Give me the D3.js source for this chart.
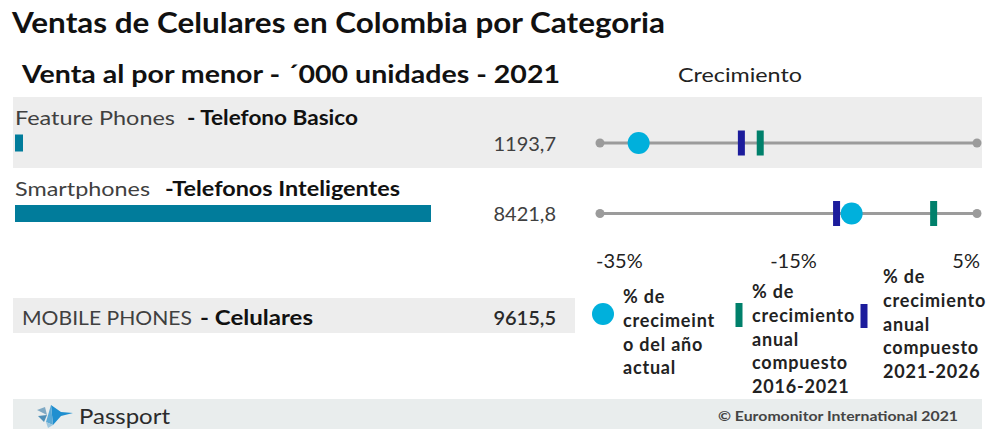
<!DOCTYPE html>
<html>
<head>
<meta charset="utf-8">
<script src="https://cdn.jsdelivr.net/npm/d3@7"></script>
<style>
  html, body { margin: 0; padding: 0; background: #fff; }
  svg { display: block; font-family: Lato, "Open Sans", sans-serif; }
</style>
</head>
<body>
<svg id="chart" width="991" height="429"></svg>
<script>
// Retail volume by category, '000 units, 2021
const categories = ["Feature Phones", "Smartphones"];
const categoriesEs = ["- Telefono Basico", "-Telefonos Inteligentes"];
const units = [1193.7, 8421.8];
const totalLabel = "MOBILE PHONES";
const totalLabelEs = "- Celulares";
const totalUnits = 9615.5;

// Growth, %
const growthCurrentYear = [-30.9, -8.3];
const cagr2016_2021 = [-18.0, 0.4];
const cagr2021_2026 = [-20.0, -9.9];
const growthTicks = [-35, -15, 5];

const legendItems = [
  ["% de", "crecimeint", "o del año", "actual"],
  ["% de", "crecimiento", "anual", "compuesto", "2016-2021"],
  ["% de", "crecimiento", "anual", "compuesto", "2021-2026"]
];

const colors = {
  band: "#ededed",
  footer: "#e9eded",
  bar: "#017c9b",
  current: "#00b0dc",
  cagrPast: "#00806b",
  cagrFuture: "#1c1c9c",
  track: "#9b9b9b",
  label: "#404040",
  strong: "#111111"
};

// Label segment layout: [x of name, width of name, x of Spanish name, width of Spanish name]
const labelLayout = [[15, 160, 187, 171], [15, 135, 165, 235]];
const totalLayout = [22, 170, 200, 113];

const fmt = v => d3.format(".1f")(v).replace(".", ",");
const pct = v => String(v) + "%";

const svg = d3.select("#chart");

function segment(x, y, txt, width, bold, fill) {
  return svg.append("text").attr("x", x).attr("y", y)
    .attr("font-size", 20).attr("font-weight", bold ? 700 : 400).attr("fill", fill)
    .attr("textLength", width).attr("lengthAdjust", "spacingAndGlyphs")
    .text(txt);
}

// Titles
svg.append("text").attr("x", 12).attr("y", 33)
  .attr("font-size", 29).attr("font-weight", 700).attr("fill", colors.strong)
  .attr("textLength", 653).attr("lengthAdjust", "spacingAndGlyphs")
  .text("Ventas de Celulares en Colombia por Categoria");
svg.append("text").attr("x", 22).attr("y", 83)
  .attr("font-size", 24).attr("font-weight", 700).attr("fill", colors.strong)
  .attr("textLength", 538).attr("lengthAdjust", "spacingAndGlyphs")
  .text("Venta al por menor - ´000 unidades - 2021");
svg.append("text").attr("x", 678).attr("y", 82)
  .attr("font-size", 19).attr("fill", "#222")
  .attr("textLength", 124).attr("lengthAdjust", "spacingAndGlyphs")
  .text("Crecimiento");

// Row layout
const rowY = d3.scaleOrdinal().domain(categories).range([143, 213.5]);

// Bars: left column
const barX = d3.scaleLinear().domain([1052, 8421.8]).range([0, 416]);
// Growth track: right column
const gx = d3.scaleLinear().domain([-35, 5]).range([600, 977]);

// Shaded band behind the first row
svg.append("rect").attr("x", 13).attr("y", 97).attr("width", 969).attr("height", 71)
  .attr("fill", colors.band);

categories.forEach((c, i) => {
  const y = rowY(c) - 18;
  const L = labelLayout[i];
  segment(L[0], y, c, L[1], false, colors.label);
  segment(L[2], y, categoriesEs[i], L[3], true, colors.strong);
});

const rows = svg.selectAll("g.row").data(categories).join("g").attr("class", "row");

rows.append("rect")
  .attr("x", 15).attr("y", d => rowY(d) - 8.5)
  .attr("width", (d, i) => barX(units[i]))
  .attr("height", 17)
  .attr("fill", colors.bar);

rows.append("text")
  .attr("x", 556).attr("y", d => rowY(d) + 7.5)
  .attr("text-anchor", "end").attr("font-size", 20).attr("fill", colors.label)
  .text((d, i) => fmt(units[i]));

// Track line with end caps
rows.append("line")
  .attr("x1", gx(-35)).attr("x2", gx(5))
  .attr("y1", d => rowY(d)).attr("y2", d => rowY(d))
  .attr("stroke", colors.track).attr("stroke-width", 3);
rows.selectAll("circle.cap").data(d => [-35, 5].map(v => ({ v, d }))).join("circle")
  .attr("class", "cap")
  .attr("cx", o => gx(o.v)).attr("cy", o => rowY(o.d)).attr("r", 4.5)
  .attr("fill", colors.track);

// Markers
const tickW = 7, tickH = 25;
rows.append("rect")
  .attr("x", (d, i) => gx(cagr2016_2021[i]) - tickW / 2)
  .attr("y", d => rowY(d) - tickH / 2)
  .attr("width", tickW).attr("height", tickH).attr("fill", colors.cagrPast);
rows.append("rect")
  .attr("x", (d, i) => gx(cagr2021_2026[i]) - tickW / 2)
  .attr("y", d => rowY(d) - tickH / 2)
  .attr("width", tickW).attr("height", tickH).attr("fill", colors.cagrFuture);
rows.append("circle")
  .attr("cx", (d, i) => gx(growthCurrentYear[i]))
  .attr("cy", d => rowY(d)).attr("r", 11)
  .attr("fill", colors.current);

// Growth axis labels
const anchors = ["start", "middle", "end"];
svg.selectAll("text.gtick").data(growthTicks).join("text")
  .attr("class", "gtick")
  .attr("x", (d, i) => i === 0 ? gx(d) - 4 : (i === 2 ? gx(d) + 3 : gx(d) + 5))
  .attr("y", 268)
  .attr("text-anchor", (d, i) => anchors[i])
  .attr("font-size", 20).attr("fill", "#222")
  .text(pct);

// Total row
svg.append("rect").attr("x", 13).attr("y", 298).attr("width", 562).attr("height", 35)
  .attr("fill", colors.band);
segment(totalLayout[0], 325, totalLabel, totalLayout[1], false, colors.label);
segment(totalLayout[2], 325, totalLabelEs, totalLayout[3], true, colors.strong);
svg.append("text").attr("x", 556).attr("y", 325)
  .attr("text-anchor", "end").attr("font-size", 20).attr("font-weight", 600).attr("fill", "#2a2a2a")
  .text(fmt(totalUnits));

// Legend
const legend = [
  { x: 623, y: 303, mark: "circle", mx: 603, my: 314, color: colors.current },
  { x: 752, y: 298, mark: "tick", mx: 739, my: 315, color: colors.cagrPast },
  { x: 883, y: 283, mark: "tick", mx: 864, my: 316, color: colors.cagrFuture }
];
legend.forEach((l, i) => {
  if (l.mark === "circle") {
    svg.append("circle").attr("cx", l.mx).attr("cy", l.my).attr("r", 11).attr("fill", l.color);
  } else {
    svg.append("rect").attr("x", l.mx - 3.5).attr("y", l.my - 12).attr("width", 7).attr("height", 24).attr("fill", l.color);
  }
  svg.append("text").attr("x", l.x).attr("y", l.y)
    .attr("font-size", 18).attr("font-weight", 700).attr("fill", "#222")
    .attr("letter-spacing", 0.8)
    .selectAll("tspan").data(legendItems[i]).join("tspan")
    .attr("x", l.x).attr("dy", (d, j) => j === 0 ? 0 : 23.8)
    .text(d => d);
});

// Footer
svg.append("rect").attr("x", 13).attr("y", 399).attr("width", 969).attr("height", 30)
  .attr("fill", colors.footer);
const logo = svg.append("g").attr("transform", "translate(37,403)");
logo.append("path").attr("d", "M14,2 L24,9 L36,10 L24,13 L16,22 Z").attr("fill", "#1f8fd0");
logo.append("path").attr("d", "M14,2 L16,22 L9,19 Z").attr("fill", "#5aa9d6");
logo.append("path").attr("d", "M0,7 L8,4 L10,12 Z").attr("fill", "#7fa9c4");
logo.append("path").attr("d", "M1,13 L10,12 L7,19 Z").attr("fill", "#4f8fb8");
logo.append("path").attr("d", "M9,19 L16,22 L11,25 Z").attr("fill", "#9cc6de");
svg.append("text").attr("x", 79).attr("y", 424).attr("font-size", 21).attr("fill", "#2b2b2b")
  .attr("textLength", 91).attr("lengthAdjust", "spacingAndGlyphs")
  .text("Passport");
svg.append("text").attr("x", 718).attr("y", 421)
  .attr("font-size", 14).attr("font-weight", 700).attr("fill", "#444")
  .attr("textLength", 240).attr("lengthAdjust", "spacingAndGlyphs")
  .text("© Euromonitor International 2021");
</script>
</body>
</html>
